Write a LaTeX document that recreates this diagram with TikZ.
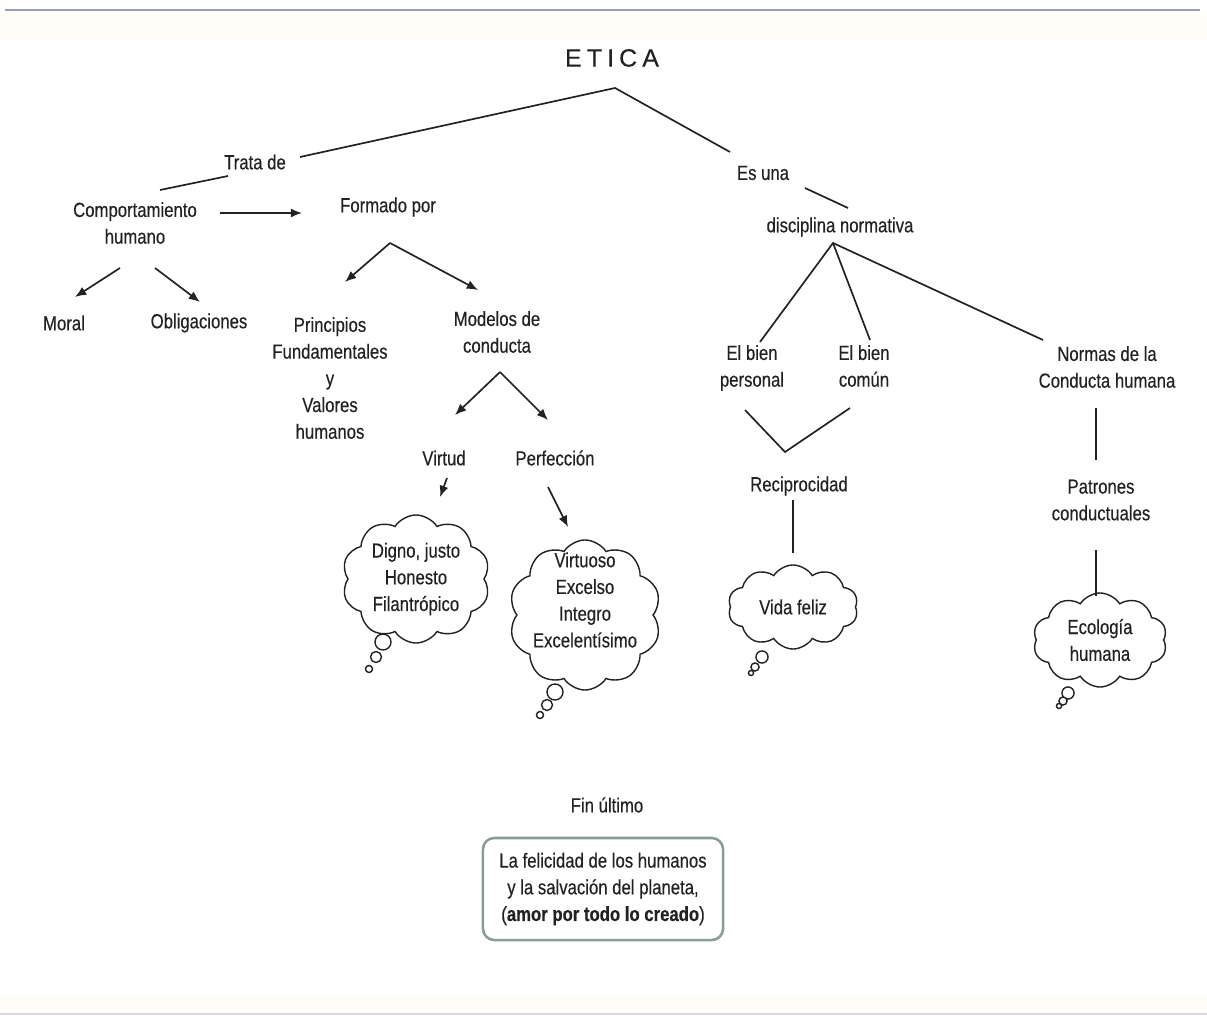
\documentclass[tikz,border=0pt]{standalone}
\usepackage{fontspec}
\setmainfont[FakeStretch=0.82,FakeBold=0.35]{Liberation Sans}
\newfontfamily\titlefont[FakeBold=0.3]{Liberation Sans}
\usetikzlibrary{shapes.symbols,arrows.meta}
\definecolor{inkgray}{HTML}{222222}
\definecolor{rulelav}{HTML}{9A9AC0}
\definecolor{boxedge}{HTML}{8A9C98}
\definecolor{creamband}{HTML}{FEFDF8}
\begin{document}
\begin{tikzpicture}[x=0.025cm, y=-0.025cm,
    lbl/.style={font=\fontsize{14.5}{19}\selectfont, text=inkgray, align=center, inner sep=1pt},
    conn/.style={draw=inkgray, line width=1.2pt},
    arr/.style={conn, -{Latex[length=8pt,width=6.5pt]}},
    thought/.style={cloud, cloud puffs=10, cloud puff arc=115, cloud ignores aspect, draw=inkgray, line width=1pt, fill=white, lbl},
    bubble/.style={draw=inkgray, line width=1pt, fill=white}]
  \useasboundingbox (0,0) rectangle (1207,1016);
  \fill[creamband] (0,12) rectangle (1207,40);
  \fill[creamband] (0,995) rectangle (1207,1012);
  \draw[rulelav, line width=2pt] (5,10) -- (1200,10);
  \draw[rulelav!40, line width=1pt] (0,1014) -- (1207,1014);

  % left branch
  \node[lbl, font=\titlefont\fontsize{17.8}{20}\selectfont] (etica) at (612,58) {E\hspace{3.6pt}T\hspace{3.6pt}I\hspace{3.6pt}C\hspace{3.6pt}A};
  \node[lbl] (trata) at (255,162) {Trata de};
  \node[lbl] (comp) at (135,223) {Comportamiento\\humano};
  \node[lbl] (formado) at (388,207) {Formado por};
  \node[lbl] (moral) at (64,323) {Moral};
  \node[lbl] (oblig) at (199,323) {Obligaciones};
  \node[lbl] (princ) at (330,378) {Principios\\Fundamentales\\y\\Valores\\humanos};
  \node[lbl] (modelos) at (497,332) {Modelos de\\conducta};
  \node[lbl] (virtud) at (444,458) {Virtud};
  \node[lbl] (perfec) at (555,458) {Perfección};
  \node[thought, minimum width=3.7cm, minimum height=3.2cm] (nubeA) at (416,579) {Digno, justo\\Honesto\\Filantrópico};
  \node[thought, minimum width=3.8cm, minimum height=3.75cm] (nubeB) at (585,615) {};
  \node[lbl] (nubeBtxt) at (585,600) {Virtuoso\\Excelso\\Integro\\Excelentísimo};

  % right branch
  \node[lbl] (esuna) at (763,173) {Es una};
  \node[lbl] (disc) at (840,227) {disciplina normativa};
  \node[lbl] (bienp) at (752,368) {El bien\\personal};
  \node[lbl] (bienc) at (864,366) {El bien\\común};
  \node[lbl] (normas) at (1107,367) {Normas de la\\Conducta humana};
  \node[lbl] (recip) at (799,486) {Reciprocidad};
  \node[lbl] (patrones) at (1101,500) {Patrones\\conductuales};
  \node[thought, minimum width=3.25cm, minimum height=2.1cm] (nubeC) at (793,607) {Vida feliz};
  \node[thought, minimum width=3.35cm, minimum height=2.35cm] (nubeD) at (1100,640) {Ecología\\humana};

  % fin ultimo
  \node[lbl] (finu) at (607,805) {Fin último};
  \node[lbl, draw=boxedge, line width=1.8pt, rounded corners=8pt, minimum width=6cm, minimum height=2.55cm] (meta) at (603,889) {La felicidad de los humanos\\y la salvación del planeta,\\(\textbf{amor por todo lo creado})};

  % thought bubbles
  \draw[bubble] ([shift={(-33,63)}]nubeA.center) circle (5.7pt);
  \draw[bubble] ([shift={(-40,78)}]nubeA.center) circle (3.9pt);
  \draw[bubble] ([shift={(-47,90)}]nubeA.center) circle (2.5pt);
  \draw[bubble] ([shift={(-30,77)}]nubeB.center) circle (5.7pt);
  \draw[bubble] ([shift={(-38,90)}]nubeB.center) circle (3.9pt);
  \draw[bubble] ([shift={(-45,100)}]nubeB.center) circle (2.5pt);
  \draw[bubble] ([shift={(-31,50)}]nubeC.center) circle (4.3pt);
  \draw[bubble] ([shift={(-38,60)}]nubeC.center) circle (2.9pt);
  \draw[bubble] ([shift={(-42,66)}]nubeC.center) circle (1.8pt);
  \draw[bubble] ([shift={(-32,53)}]nubeD.center) circle (4.3pt);
  \draw[bubble] ([shift={(-37,61)}]nubeD.center) circle (2.9pt);
  \draw[bubble] ([shift={(-41,66)}]nubeD.center) circle (1.8pt);

  % connectors
  \coordinate (eticaTip) at ([shift={(3,30)}]etica.center);
  \draw[conn] ([shift={(45,-5)}]trata.center) -- (eticaTip) -- ([shift={(-33,-21)}]esuna.center);
  \draw[conn] ([shift={(-27,14)}]trata.center) -- ([shift={(25,-33)}]comp.center);
  \draw[arr] ([shift={(85,-10)}]comp.center) -- ([shift={(-86,6)}]formado.center);
  \draw[arr] ([shift={(-15,45)}]comp.center) -- ([shift={(11,-26)}]moral.center);
  \draw[arr] ([shift={(20,45)}]comp.center) -- ([shift={(1,-21)}]oblig.center);
  \draw[arr] ([shift={(2,36)}]formado.center) -- ([shift={(15,-96)}]princ.center);
  \draw[arr] ([shift={(2,36)}]formado.center) -- ([shift={(-19,-42)}]modelos.center);
  \draw[arr] ([shift={(3,40)}]modelos.center) -- ([shift={(11,-43)}]virtud.center);
  \draw[arr] ([shift={(3,40)}]modelos.center) -- ([shift={(-7,-38)}]perfec.center);
  \draw[arr] ([shift={(3,20)}]virtud.center) -- ([shift={(24,-82)}]nubeA.center);
  \draw[arr] ([shift={(-7,29)}]perfec.center) -- ([shift={(-17,-88)}]nubeB.center);
  \draw[conn] ([shift={(42,15)}]esuna.center) -- ([shift={(8,-19)}]disc.center);
  \draw[conn] ([shift={(8,-26)}]bienp.center) -- ([shift={(-7,16)}]disc.center) -- ([shift={(-64,-27)}]normas.center);
  \draw[conn] ([shift={(-7,16)}]disc.center) -- ([shift={(6,-26)}]bienc.center);
  \draw[conn] ([shift={(-7,42)}]bienp.center) -- ([shift={(-14,-34)}]recip.center) -- ([shift={(-14,42)}]bienc.center);
  \draw[conn] ([shift={(-6,14)}]recip.center) -- ([shift={(0,-54)}]nubeC.center);
  \draw[conn] ([shift={(-11,41)}]normas.center) -- ([shift={(-5,-40)}]patrones.center);
  \draw[conn] ([shift={(-5,50)}]patrones.center) -- ([shift={(-4,-44)}]nubeD.center);
\end{tikzpicture}
\end{document}
